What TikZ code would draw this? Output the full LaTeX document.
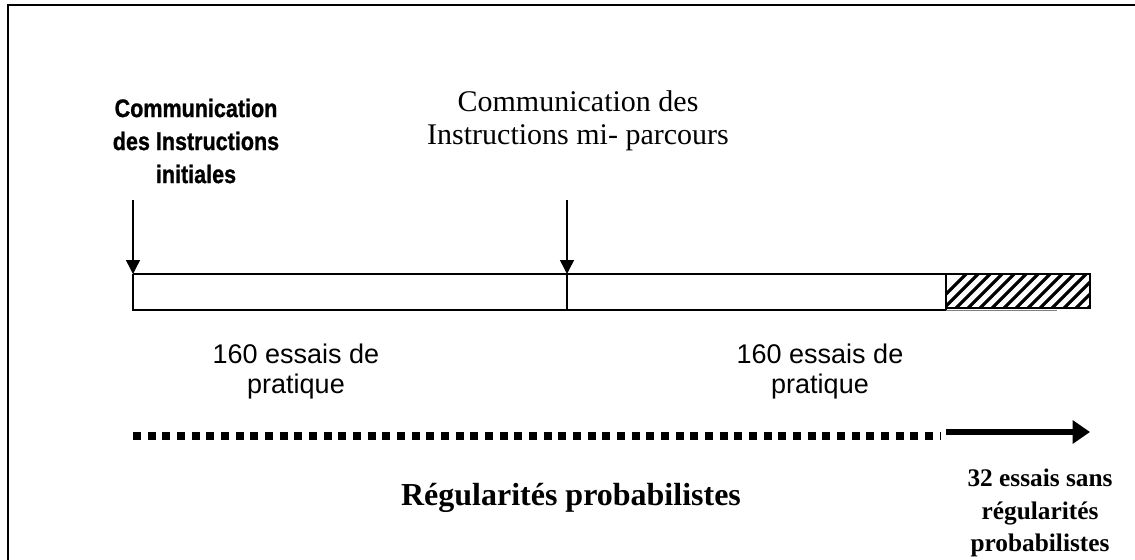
\documentclass[tikz,border=0pt]{standalone}
\usepackage{fontspec}
\setmainfont{Liberation Serif}
\newfontfamily\arialf{Liberation Sans}
\newfontfamily\headf[FakeStretch=0.85,FakeBold=1]{Liberation Sans}
\usetikzlibrary{arrows.meta}
\begin{document}
\begin{tikzpicture}[x=0.75pt,y=-0.75pt,
  every node/.style={inner sep=0pt,outer sep=0pt,align=center},
  headtxt/.style={font=\headf\bfseries\fontsize{19}{24.75}\selectfont},
  midtxt/.style={font=\fontsize{22.5}{24.75}\selectfont},
  sanstxt/.style={font=\arialf\fontsize{20.25}{22.5}\selectfont},
  bigtxt/.style={font=\bfseries\fontsize{24}{28}\selectfont},
  endtxt/.style={font=\bfseries\fontsize{19}{24.4}\selectfont},
  barline/.style={line width=1.4pt},
  pointer/.style={line width=1.1pt,-{Triangle[length=10.5pt,width=10.5pt]}},
  dots/.style={line width=6pt,dash pattern=on 6pt off 5pt},
  fatarrow/.style={line width=4.5pt,-{Triangle[length=13pt,width=17pt]}}]
\useasboundingbox (0,0) rectangle (1135,560);
\clip (0,0) rectangle (1135,560);
% frame
\draw[line width=1.6pt] (8,5) rectangle (1145,575);
% bar
\coordinate (b0) at (133,274);
\coordinate (bm) at (567,274);
\coordinate (bh) at (946,274);
\coordinate (b1) at (1090,274);
\begin{scope}
\clip (946,274) rectangle (1090,308);
\foreach \i in {0,...,16} {
  \draw[line width=2.4pt] (930+\i*12,310) -- (930+\i*12+38,272);
}
\end{scope}
\draw[barline] (133,274) -- (1090,274) -- (1090,308) -- (946,308);
\draw[barline] (946,310) -- (133,310) -- (133,274);
\draw[line width=0.6pt,gray] (946,310) -- (1057,310);
\draw[barline] (567,274) -- (567,310);
\draw[barline] (946,274) -- (946,310);
% pointers
\coordinate (p0) at (133,200);
\coordinate (pm) at (567,200);
\draw[pointer] (p0) -- (b0);
\draw[pointer] (pm) -- (bm);
% texts
\node[headtxt] (t1) at (196,141) {Communication\\des Instructions\\initiales};
\node[midtxt] (t2) at (578,121) {Communication des\\Instructions mi- parcours};
\node[sanstxt] (t3) at (296,372) {160 essais de\\pratique};
\node[sanstxt] (t4) at (820,372) {160 essais de\\pratique};
% bottom lines
\coordinate (d0) at (133,436);
\coordinate (d1) at (940,436);
\coordinate (a0) at (946,432);
\coordinate (a1) at (1090,432);
\draw[dots] (d0) -- (d1);
\draw[fatarrow] (a0) -- (a1);
\node[bigtxt] (t5) at (571,498) {Régularités probabilistes};
\node[endtxt] (t6) at (1040,513) {32 essais sans\\régularités\\probabilistes};
\end{tikzpicture}
\end{document}
